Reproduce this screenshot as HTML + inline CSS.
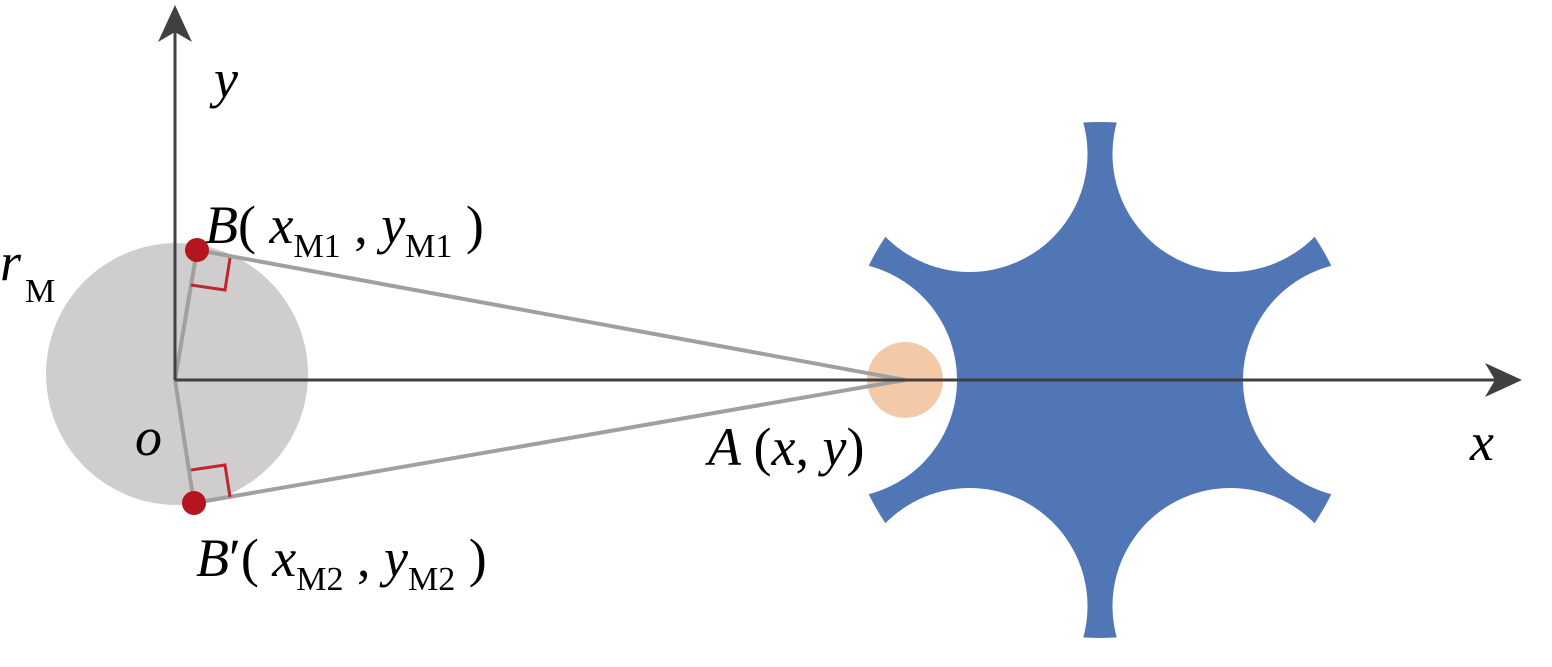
<!DOCTYPE html>
<html><head><style>
body{margin:0;background:#fff;}
svg text{font-family:"Liberation Serif",serif;}
</style></head><body>
<svg width="1552" height="662" viewBox="0 0 1552 662" xmlns="http://www.w3.org/2000/svg">
<defs>
<mask id="m">
<rect width="1552" height="662" fill="#fff"/>
<g fill="#000">
<circle cx="1361" cy="380" r="118"/>
<circle cx="839" cy="380" r="118"/>
<circle cx="1230.5" cy="154" r="118"/>
<circle cx="969.5" cy="154" r="118"/>
<circle cx="1230.5" cy="606" r="118"/>
<circle cx="969.5" cy="606" r="118"/>
</g>
</mask>
</defs>
<circle cx="177" cy="374" r="131" fill="#cfcdce"/>
<circle cx="1100" cy="380" r="258" fill="#5076b5" mask="url(#m)"/>
<circle cx="905" cy="380" r="38" fill="#f4c9a8"/>
<g stroke="#a0a0a0" stroke-width="4" fill="none">
<line x1="905" y1="380" x2="197" y2="250"/>
<line x1="905" y1="380" x2="194" y2="503"/>
<line x1="175" y1="380" x2="197" y2="250"/>
<line x1="175" y1="380" x2="194" y2="503"/>
</g>
<g stroke="#c0272d" stroke-width="3" fill="none">
<polyline points="191,285 225,290 230,258"/>
<polyline points="191,470 225,465 230,497"/>
</g>
<g stroke="#404040" stroke-width="3">
<line x1="175" y1="380" x2="1510" y2="380"/>
<line x1="175" y1="380" x2="175" y2="20"/>
</g>
<path d="M175 5 L192 42 L175 32 L158 42 Z" fill="#404040"/>
<path d="M1522 380 L1485 363 L1495 380 L1485 397 Z" fill="#404040"/>
<circle cx="197" cy="250" r="12" fill="#b5161e"/>
<circle cx="194" cy="503" r="12" fill="#b5161e"/>
<g font-style="italic" font-size="54" fill="#000">
<text x="214" y="97">y</text>
<text x="0" y="280">r</text>
<text x="135" y="455">o</text>
<text x="1470" y="460">x</text>
<text x="708" y="465">A <tspan font-style="normal">(</tspan>x<tspan font-style="normal">,</tspan> y<tspan font-style="normal">)</tspan></text>
<text x="205" y="243">B<tspan font-style="normal">(</tspan> x<tspan font-style="normal" font-size="34" dy="14">M1</tspan><tspan font-style="normal" dy="-14"> , </tspan>y<tspan font-style="normal" font-size="34" dy="14">M1</tspan><tspan font-style="normal" dy="-14"> )</tspan></text>
<text x="196" y="576">B<tspan font-style="normal">′(</tspan> x<tspan font-style="normal" font-size="34" dy="14">M2</tspan><tspan font-style="normal" dy="-14"> , </tspan>y<tspan font-style="normal" font-size="34" dy="14">M2</tspan><tspan font-style="normal" dy="-14"> )</tspan></text>
</g>
<text x="25" y="302" font-size="34" fill="#000">M</text>
</svg>
</body></html>
